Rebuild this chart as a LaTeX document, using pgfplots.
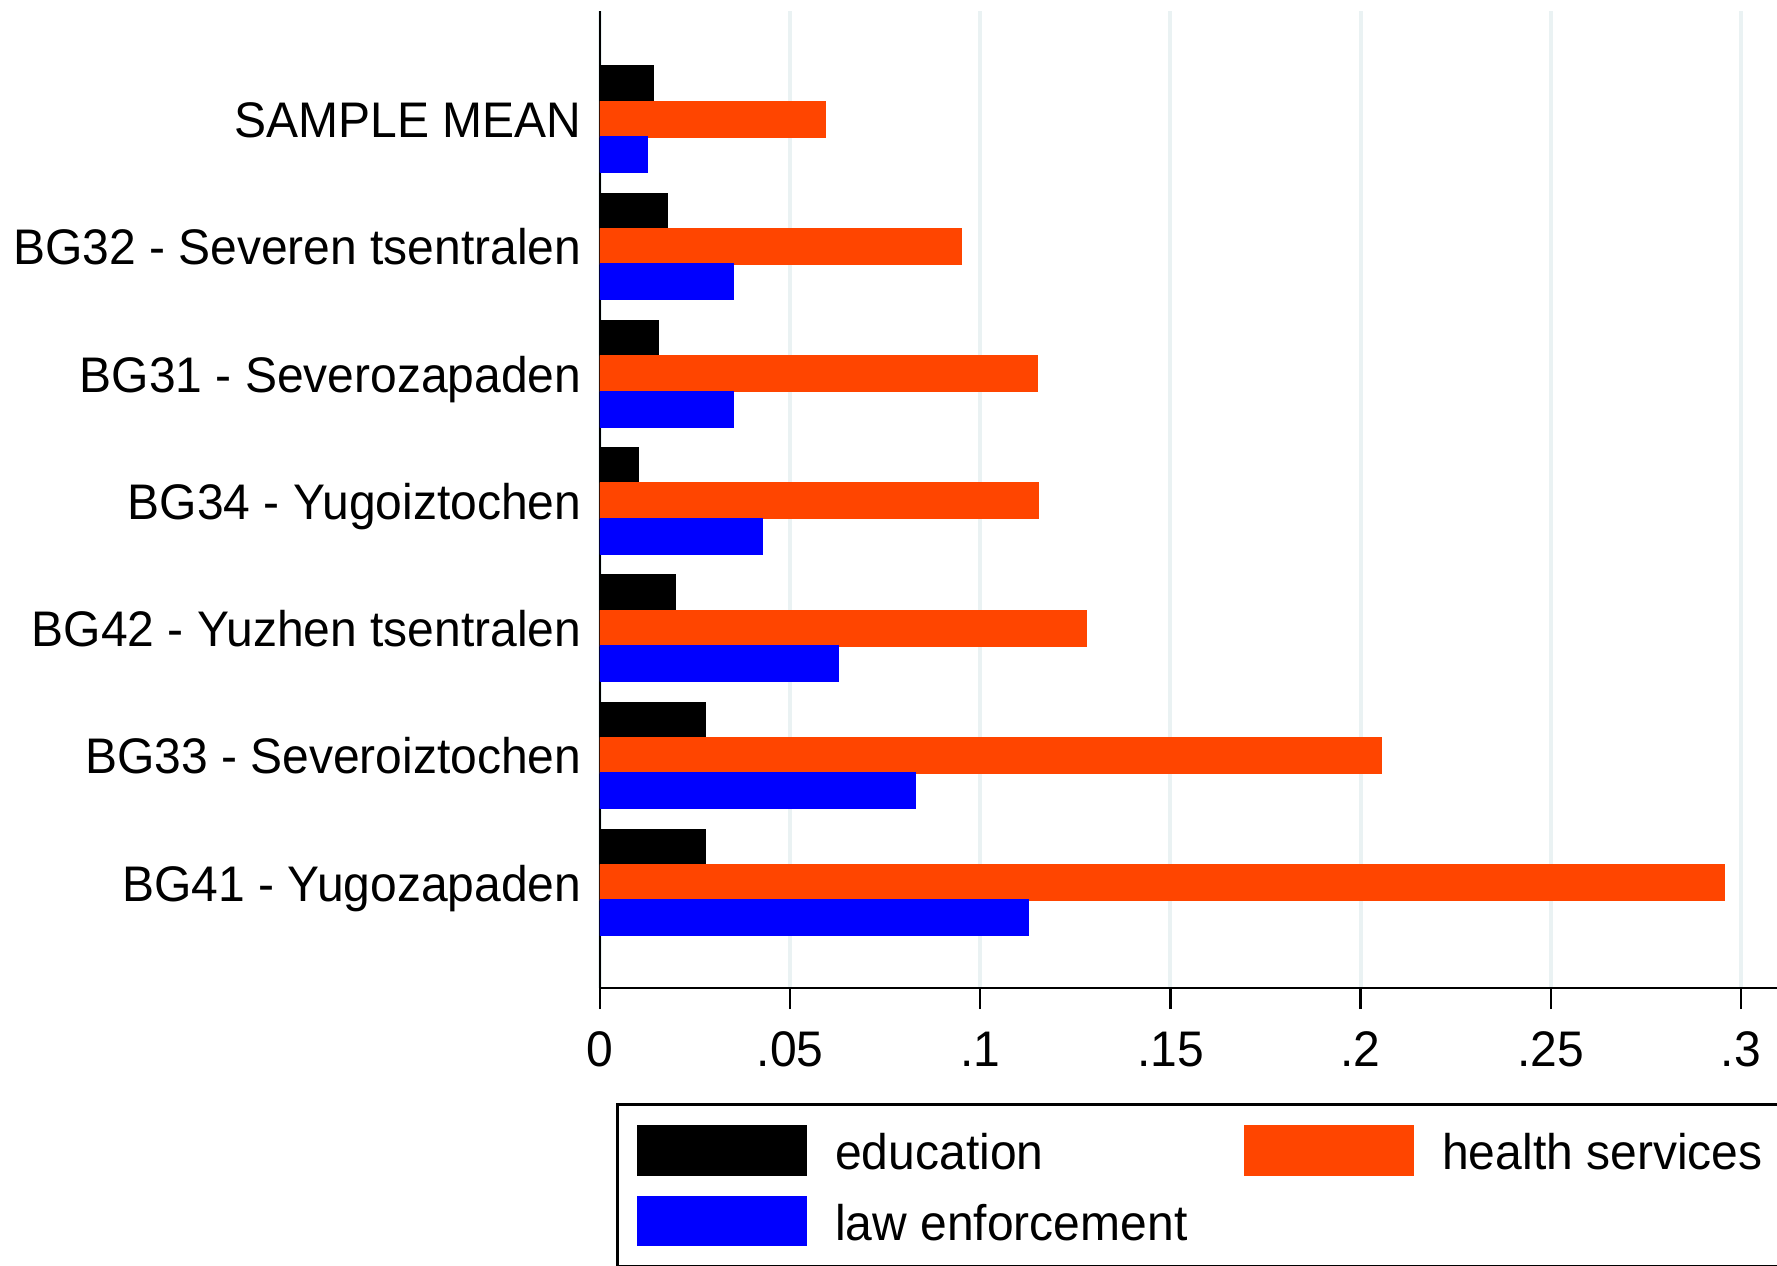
\documentclass[border=0pt]{standalone}
\usepackage{fontspec}
\setmainfont{Liberation Sans}[FakeStretch=0.96]
\usepackage{pgfplots}
\usepackage{pgfplotstable}
\pgfplotsset{compat=1.18}
\definecolor{edu}{RGB}{0,0,0}
\definecolor{hlth}{RGB}{255,69,0}
\definecolor{lawc}{RGB}{0,0,255}
\definecolor{gridc}{RGB}{234,242,243}

\pgfplotstableread{
y edu hlth law
0 0.0139 0.0591 0.0125
1 0.0176 0.0951 0.0350
2 0.0152 0.1150 0.0350
3 0.0101 0.1152 0.0426
4 0.0199 0.1278 0.0626
5 0.0276 0.2055 0.0828
6 0.0276 0.2957 0.1127
}\datatab

\begin{document}
\begin{tikzpicture}
\begin{axis}[
  name=ax,
  scale only axis, width=294.25pt, height=244.3pt,
  xbar, bar width=0.278,
  xmin=0, xmax=0.3095,
  ymin=-0.85, ymax=6.83, y dir=reverse,
  axis x line*=bottom, axis y line*=left,
  axis line style={black, line width=0.6pt},
  xtick={0,0.05,0.1,0.15,0.2,0.25,0.3},
  xticklabels={0,.05,.1,.15,.2,.25,.3},
  xmajorgrids, grid style={gridc, line width=1pt},
  tick align=outside, major tick length=5.25pt,
  xtick style={black, line width=0.6pt},
  ytick={0,1,2,3,4,5,6},
  yticklabels={SAMPLE MEAN, BG32 - Severen tsentralen, BG31 - Severozapaden, BG34 - Yugoiztochen, BG42 - Yuzhen tsentralen, BG33 - Severoiztochen, BG41 - Yugozapaden},
  ytick style={draw=none},
  tick label style={font=\fontsize{12.5}{15}\selectfont},
  /pgf/number format/assume math mode=true,
  yticklabel style={inner sep=0pt, anchor=base east, xshift=0.8pt, yshift=-4.6pt},
  xticklabel style={inner sep=0pt, anchor=base, yshift=-14.2pt},
  legend columns=2,
  legend style={at={(axis description cs:0.01334,-0.1177)}, anchor=north west,
    draw=black, line width=0.8pt, inner xsep=5pt, inner ysep=5pt,
    cells={anchor=base west},
    nodes={inner sep=0pt}, font=\fontsize{12.5}{15}\selectfont, row sep=5pt,
    /tikz/every odd column/.append style={column sep=7pt},
    /tikz/every even column/.append style={column sep=14.25pt}},
  legend image code/.code={\fill[#1,draw=none] (0pt,-1.6pt) rectangle (42.5pt,11.1pt);},
]
\addplot[fill=edu, draw=edu, bar shift=-0.278] table[x=edu,y=y]{\datatab};
\addplot[fill=hlth, draw=hlth, bar shift=0] table[x=hlth,y=y]{\datatab};
\addplot[fill=lawc, draw=lawc, bar shift=0.278] table[x=law,y=y]{\datatab};
\legend{\makebox[88pt][l]{education}, \makebox[80pt][l]{health services}, \makebox[88pt][l]{law enforcement}\rule[-2.6pt]{0pt}{1pt}}
\end{axis}
\pgfresetboundingbox
\path[use as bounding box] ([xshift=-150pt,yshift=-69.4pt]ax.south west) rectangle ([yshift=2.75pt]ax.north east);
\end{tikzpicture}
\end{document}
